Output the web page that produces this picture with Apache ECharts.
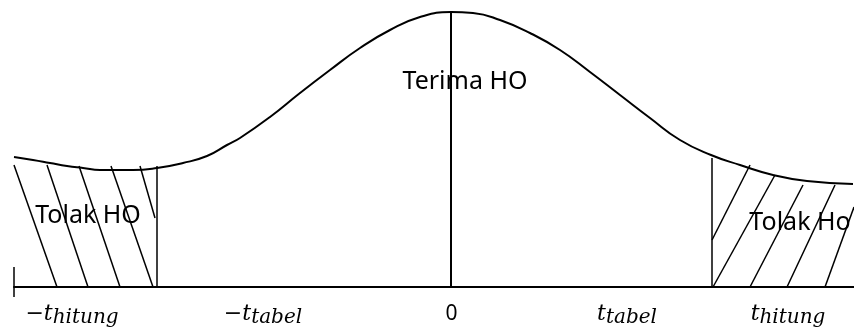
<!DOCTYPE html>
<html>
<head>
<meta charset="utf-8">
<script src="https://cdn.jsdelivr.net/npm/echarts@6/dist/echarts.min.js"></script>
<style>
  html, body { margin: 0; padding: 0; background: #fff; }
  #chart { width: 854px; height: 327px; }
</style>
</head>
<body>
<div id="chart"></div>
<script>
  // kurva distribusi t (x: jarak dari 0, y: tinggi di atas garis dasar)
  var curveX = [-437, -418, -401, -384, -368, -351, -334, -318, -294, -268, -244, -224, -211,
                -181, -151, -121, -91, -61, -31, 0, 22, 49, 79, 109, 139, 169, 199, 229,
                260, 289, 322, 356, 402];
  var curveY = [130, 127, 124, 121, 119, 117, 117, 117, 119, 124, 131, 142, 149,
                170, 194, 217, 239, 257, 270, 275, 274, 267, 254, 237, 215, 192, 169, 147,
                132, 122, 112, 106, 103];

  // garis tegak: batas kiri, tengah, batas kanan, tanda ujung kiri
  var verticalX = [-294, 0, 261, -437];
  var verticalTop = [121, 276, 129, 20];
  var verticalBottom = [0, 0, 0, -10];

  // arsiran daerah tolak
  var hatchLeft = [
    [[-437, 122], [-394, 0]],
    [[-404, 122], [-363, 0]],
    [[-372, 121], [-331, 0]],
    [[-340, 121], [-298, 0]],
    [[-311, 121], [-296, 69]]
  ];
  var hatchRight = [
    [[261, 47], [299, 122]],
    [[262, 0], [324, 112]],
    [[299, 0], [352, 102]],
    [[336, 0], [384, 102]],
    [[374, 0], [403, 80]]
  ];

  // label sumbu
  var tickValues = [-379, -188, 0.5, 176, 337];
  var tickLabels = ['{m|\u2212t}{s|hitung}', '{m|\u2212t}{s|tabel}', '{num|0}', '{m|t}{s|tabel}', '{m|t}{s|hitung}'];

  // teks daerah
  var areaText = ['Terima HO', 'Tolak HO', 'Tolak Ho'];
  var areaX = [14, -363, 349];
  var areaY = [205, 71, 64];

  var chart = echarts.init(document.getElementById('chart'));

  var segs = [];
  for (var i = 0; i < verticalX.length; i++) {
    segs.push({coords: [[verticalX[i], verticalBottom[i]], [verticalX[i], verticalTop[i]]],
               lineStyle: {width: i === 1 ? 2 : 1.5}});
  }
  hatchLeft.concat(hatchRight).forEach(function (h) {
    segs.push({coords: h});
  });

  var option = {
    backgroundColor: '#fff',
    animation: false,
    grid: {left: 14, right: 0, top: 0, bottom: 40, containLabel: false, outerBoundsMode: 'none'},
    xAxis: {
      type: 'value',
      min: -437,
      max: 403,
      splitLine: {show: false},
      axisTick: {show: false},
      axisLine: {lineStyle: {color: '#000', width: 2}},
      axisLabel: {
        customValues: tickValues,
        margin: 19,
        fontSize: 21,
        fontFamily: 'Noto Sans',
        color: '#000',
        formatter: function (v) {
          var k = tickValues.indexOf(v);
          return k < 0 ? '' : tickLabels[k];
        },
        rich: {
          m: {fontFamily: 'DejaVu Serif', fontStyle: 'italic', fontSize: 22, color: '#000',
              lineHeight: 24, height: 24, padding: [0, 0, 4, 0], verticalAlign: 'bottom'},
          s: {fontFamily: 'DejaVu Serif', fontStyle: 'italic', fontSize: 20, color: '#000',
              lineHeight: 24, height: 24, verticalAlign: 'bottom'},
          num: {fontFamily: 'Noto Sans', fontSize: 21, color: '#000',
              lineHeight: 24, height: 24, padding: [0, 0, 4, 0], verticalAlign: 'bottom'}
        }
      }
    },
    yAxis: {
      type: 'value',
      min: 0,
      max: 287,
      show: false
    },
    series: [
      {
        type: 'line',
        smooth: true,
        showSymbol: false,
        clip: false,
        data: curveX.map(function (x, i) { return [x, curveY[i]]; }),
        lineStyle: {color: '#000', width: 2}
      },
      {
        type: 'lines',
        coordinateSystem: 'cartesian2d',
        clip: false,
        data: segs,
        lineStyle: {color: '#000', width: 1.5, opacity: 1}
      },
      {
        type: 'scatter',
        symbolSize: 1,
        itemStyle: {opacity: 0},
        data: areaX.map(function (x, i) { return [x, areaY[i]]; }),
        label: {
          show: true,
          position: 'inside',
          fontFamily: 'Noto Sans',
          fontSize: 25,
          color: '#000',
          opacity: 1,
          formatter: function (p) { return areaText[p.dataIndex]; }
        }
      }
    ]
  };

  chart.setOption(option);
</script>
</body>
</html>
